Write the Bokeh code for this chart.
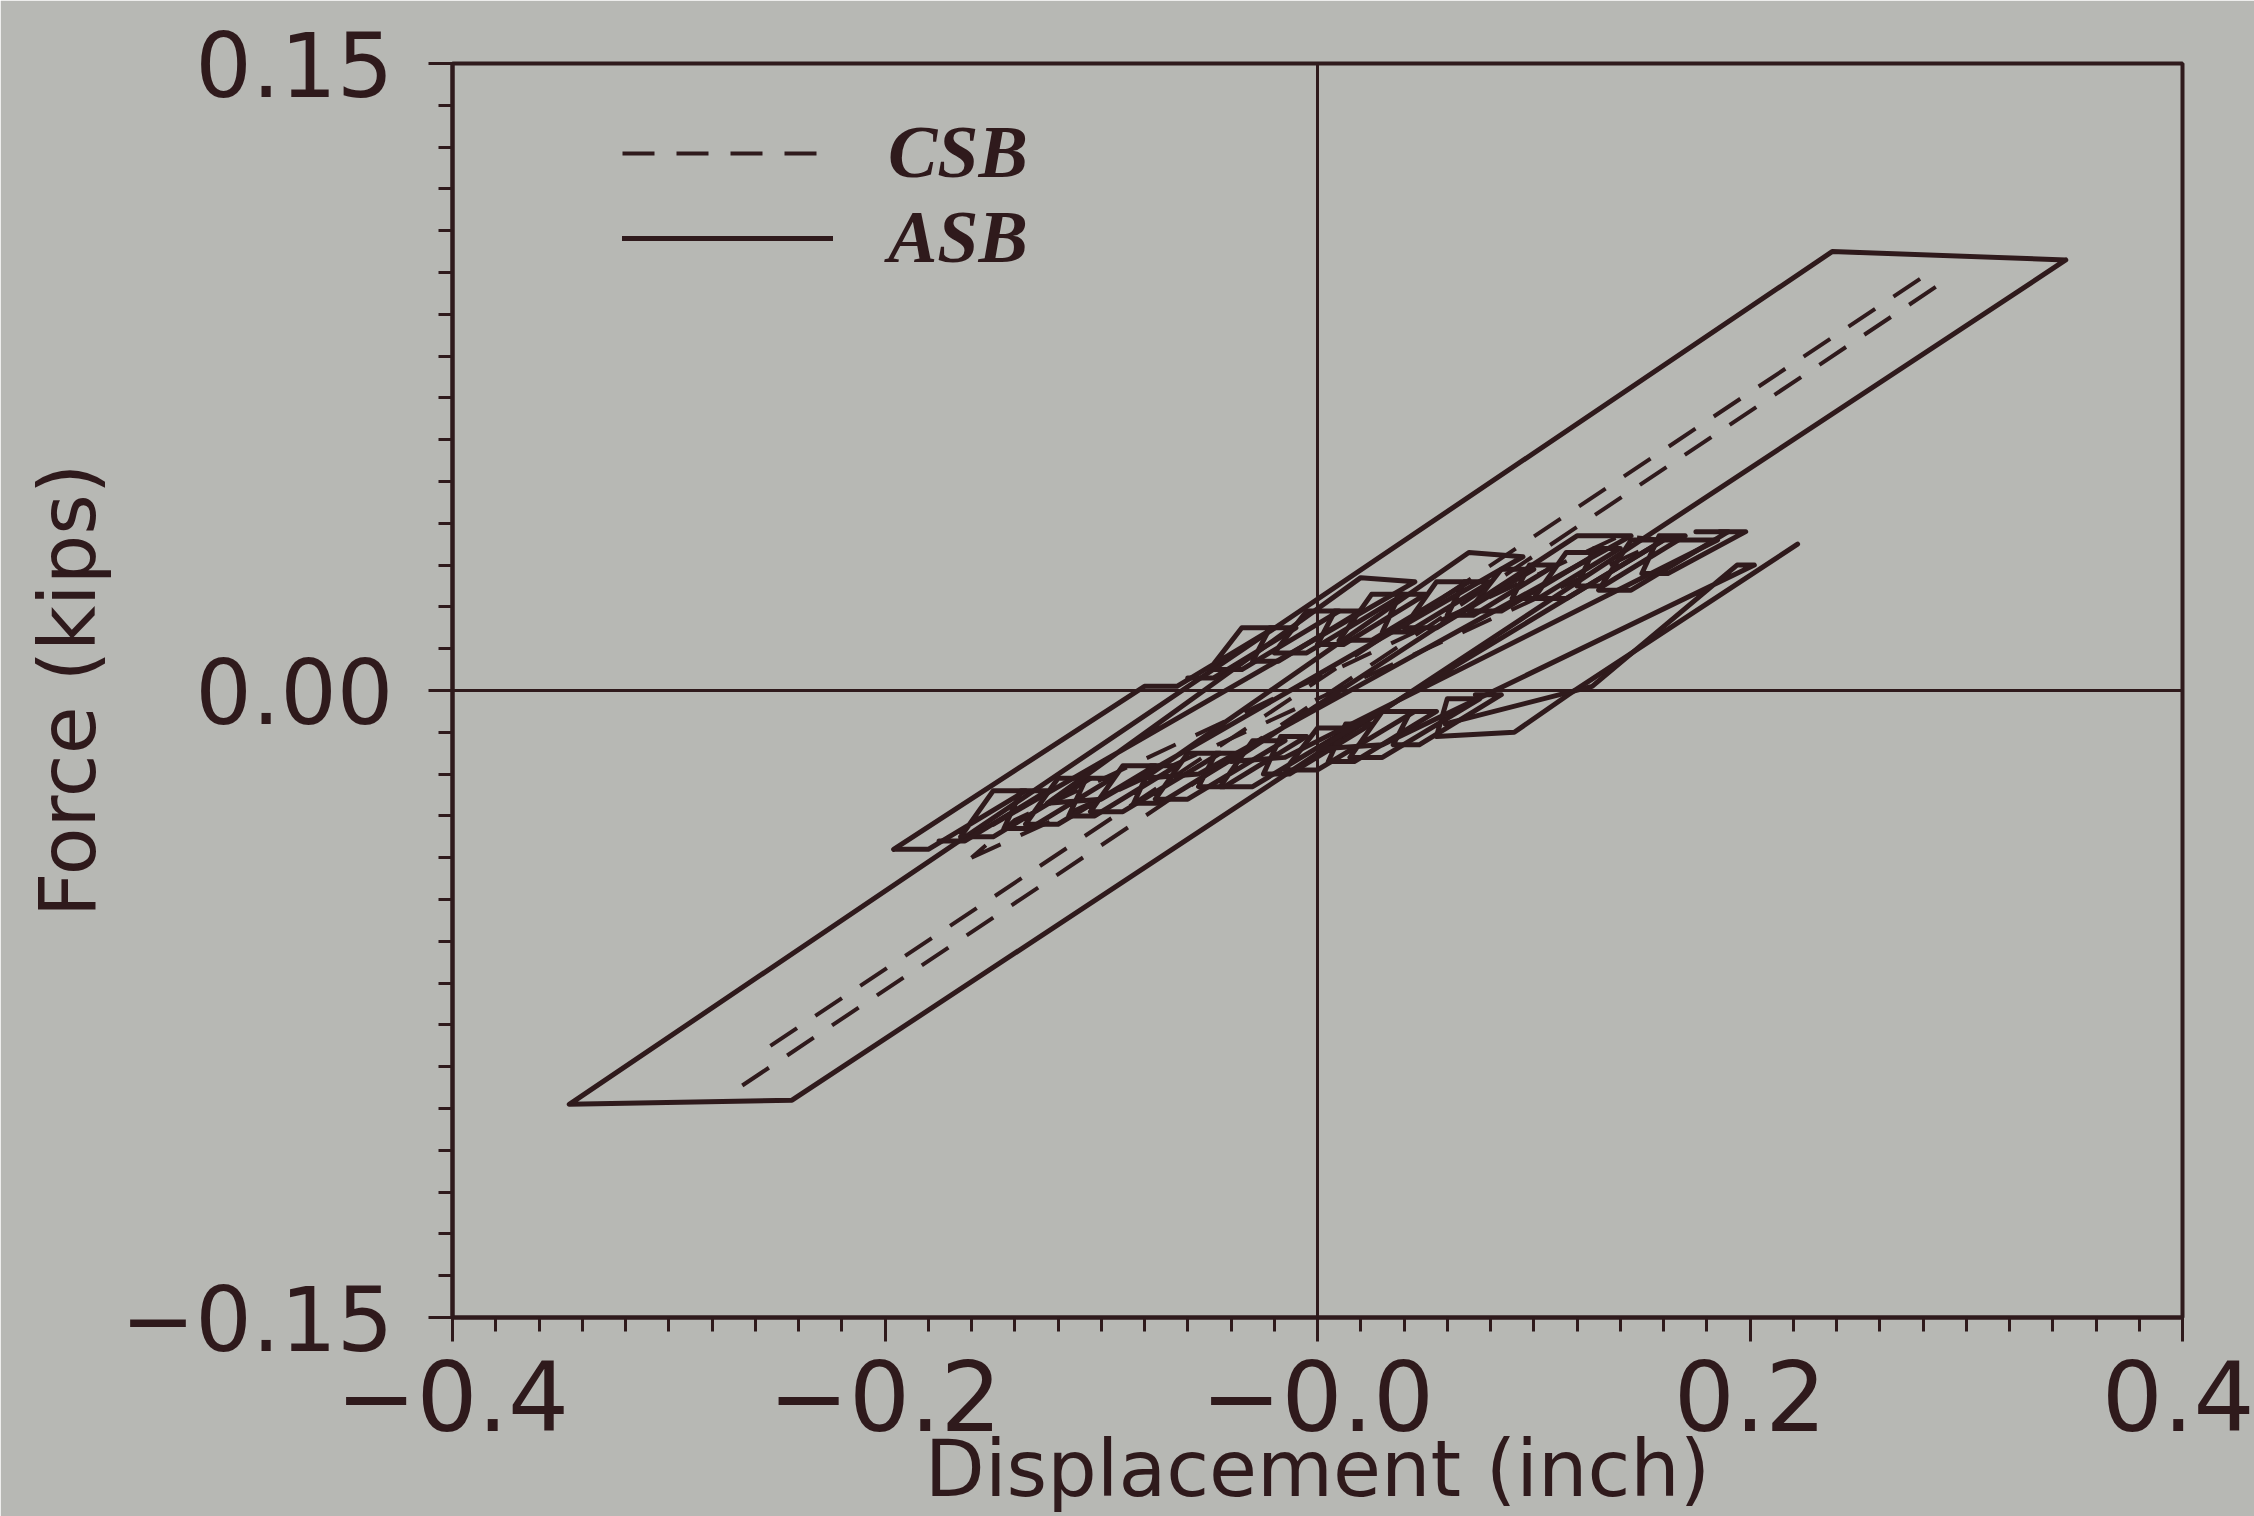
from bokeh.plotting import figure
from bokeh.models import Range1d, FixedTicker, Span, Legend, LegendItem
from bokeh.embed import file_html
from bokeh.resources import INLINE

# ---------------- data ----------------
x_ticks = [-0.4, -0.2, 0.0, 0.2, 0.4]
x_labels = ["\u22120.4", "\u22120.2", "\u22120.0", "0.2", "0.4"]
y_ticks = [-0.15, 0.0, 0.15]
y_labels = ["\u22120.15", "0.00", "0.15"]

# ASB (solid) - outer large cycle
asb_outer_x = [0.346, 0.238, -0.346, -0.243, 0.346]
asb_outer_y = [0.103, 0.105, -0.099, -0.098, 0.103]

# ASB - left tip branch followed by the upper chain of small cycles
asb_up_x = [-0.196, -0.080, -0.065, -0.020, -0.035, -0.050, -0.035, 0.010, -0.005, -0.020,
            -0.005, 0.040, 0.025, 0.010, 0.025, 0.070, 0.055, 0.040, 0.055, 0.100,
            0.085, 0.070, 0.085, 0.130, 0.115, 0.100, 0.115, 0.160, 0.145, 0.130,
            0.145, 0.190, 0.175]
asb_up_y = [-0.038, 0.001, 0.001, 0.015, 0.015, 0.005, 0.005, 0.019, 0.019, 0.009,
            0.009, 0.023, 0.023, 0.012, 0.012, 0.026, 0.026, 0.015, 0.015, 0.029,
            0.029, 0.019, 0.019, 0.033, 0.033, 0.022, 0.022, 0.036, 0.036, 0.024,
            0.024, 0.038, 0.038]

# ASB - second upper chain of small cycles
asb_up2_x = [-0.060, -0.048, -0.010, -0.022, -0.030, -0.018, 0.020, 0.008, 0.000, 0.012,
             0.050, 0.038, 0.030, 0.042, 0.080, 0.068, 0.060, 0.072, 0.110, 0.098,
             0.090, 0.102, 0.140, 0.128, 0.120, 0.132, 0.170, 0.158, 0.150, 0.162,
             0.198, 0.186]
asb_up2_y = [0.003, 0.003, 0.015, 0.015, 0.007, 0.007, 0.019, 0.019, 0.011, 0.011,
             0.023, 0.023, 0.014, 0.014, 0.026, 0.026, 0.018, 0.018, 0.030, 0.030,
             0.022, 0.022, 0.034, 0.034, 0.025, 0.025, 0.037, 0.037, 0.028, 0.028,
             0.038, 0.038]

# ASB - lower chain of small cycles ending in the right-hand branch
asb_lo_x = [-0.195, -0.180, -0.135, -0.150, -0.165, -0.150, -0.105, -0.120, -0.135, -0.120,
            -0.075, -0.090, -0.105, -0.090, -0.045, -0.060, -0.075, -0.060, -0.015, -0.030,
            -0.045, -0.030, 0.015, 0.000, -0.015, 0.000, 0.045, 0.030, 0.015, 0.030,
            0.075, 0.060, 0.055, 0.091, 0.116, 0.222]
asb_lo_y = [-0.038, -0.038, -0.024, -0.024, -0.035, -0.035, -0.021, -0.021, -0.032, -0.032,
            -0.018, -0.018, -0.029, -0.029, -0.015, -0.015, -0.026, -0.026, -0.012, -0.012,
            -0.023, -0.023, -0.009, -0.009, -0.019, -0.019, -0.005, -0.005, -0.016, -0.016,
            -0.002, -0.002, -0.011, -0.010, -0.001, 0.035]

# ASB - second lower chain of small cycles
asb_lo2_x = [-0.175, -0.163, -0.125, -0.137, -0.145, -0.133, -0.095, -0.107, -0.115, -0.103,
             -0.065, -0.077, -0.085, -0.073, -0.035, -0.047, -0.055, -0.043, -0.005, -0.017,
             -0.025, -0.013, 0.025, 0.013, 0.005, 0.017, 0.055, 0.043, 0.035, 0.047,
             0.085, 0.073]
asb_lo2_y = [-0.036, -0.036, -0.024, -0.024, -0.033, -0.033, -0.021, -0.021, -0.030, -0.030,
             -0.018, -0.018, -0.027, -0.027, -0.015, -0.015, -0.023, -0.023, -0.011, -0.011,
             -0.020, -0.020, -0.008, -0.008, -0.017, -0.017, -0.005, -0.005, -0.013, -0.013,
             -0.001, -0.001]

# ASB - cycles crossing between the chains
asb_mid_x = [-0.150, 0.045, 0.020, -0.125, -0.100, 0.095, 0.070, -0.080, -0.055, 0.145,
             0.120, -0.040, -0.015, 0.185, 0.160, 0.000, 0.030, 0.202, 0.194, 0.127, 0.059]
asb_mid_y = [-0.032, 0.026, 0.027, -0.027, -0.026, 0.032, 0.033, -0.021, -0.020, 0.037,
             0.037, -0.017, -0.016, 0.036, 0.036, -0.014, -0.013, 0.030, 0.030, 0.001, -0.008]

# CSB (dashed) - two long branches and one inner cycle
csb_up_x = [-0.253, 0.279]
csb_up_y = [-0.085, 0.0986]
csb_dn_x = [-0.266, 0.293]
csb_dn_y = [-0.0945, 0.099]
csb_in_x = [-0.160, 0.160, 0.140, -0.140, -0.160]
csb_in_y = [-0.040, 0.036, 0.037, -0.031, -0.040]

# ---------------- styling ----------------
INK = "#2f1a1c"
PAPER = "#b7b8b4"
W, H = 2254, 1516
BL, BR, BT, BB = 452, 72, 63, 196
FH = H - BT - BB

p = figure(width=W, height=H, output_backend="svg", toolbar_location=None,
           x_range=Range1d(-0.4, 0.4), y_range=Range1d(-0.15, 0.15),
           min_border_left=BL, min_border_right=BR, min_border_top=BT, min_border_bottom=BB)
p.background_fill_color = PAPER
p.border_fill_color = PAPER
p.outline_line_color = INK
p.outline_line_width = 4
p.grid.visible = False

x_minor = [round(-0.4 + 0.02 * i, 2) for i in range(41)]
y_minor = [round(-0.15 + 0.01 * i, 2) for i in range(31)]

p.xaxis.ticker = FixedTicker(ticks=x_ticks, minor_ticks=x_minor)
p.xaxis.major_label_overrides = dict(zip(x_ticks, x_labels))
p.yaxis.ticker = FixedTicker(ticks=y_ticks, minor_ticks=y_minor)
p.yaxis.major_label_overrides = dict(zip(y_ticks, y_labels))

for ax in (p.xaxis, p.yaxis):
    ax.axis_line_color = INK
    ax.axis_line_width = 4
    ax.major_tick_line_color = INK
    ax.major_tick_line_width = 3
    ax.minor_tick_line_color = INK
    ax.minor_tick_line_width = 3
    ax.major_tick_in = 0
    ax.minor_tick_in = 0
    ax.major_tick_out = 24
    ax.minor_tick_out = 14
    ax.major_label_text_color = INK
    ax.major_label_text_font = "DejaVu Sans"
    ax.axis_label_text_color = INK
    ax.axis_label_text_font = "DejaVu Sans"
    ax.axis_label_text_font_style = "normal"
    ax.axis_label_text_font_size = "78px"

p.xaxis.major_label_text_font_size = "96px"
p.yaxis.major_label_text_font_size = "89px"
p.xaxis.major_label_standoff = 18
p.yaxis.major_label_standoff = 35
p.xaxis.axis_label = "Displacement (inch)"
p.yaxis.axis_label = "Force (kips)"
p.xaxis.axis_label_standoff = -10
p.yaxis.axis_label_standoff = 5

# cross lines through the origin
p.add_layout(Span(location=0, dimension="height", line_color=INK, line_width=3))
p.add_layout(Span(location=0, dimension="width", line_color=INK, line_width=3))

r_csb = p.multi_line(xs=[csb_up_x, csb_dn_x, csb_in_x], ys=[csb_up_y, csb_dn_y, csb_in_y],
                     line_color=INK, line_width=4, line_dash="32 22")
r_asb = p.multi_line(xs=[asb_outer_x, asb_up_x, asb_up2_x, asb_lo_x, asb_lo2_x, asb_mid_x],
                     ys=[asb_outer_y, asb_up_y, asb_up2_y, asb_lo_y, asb_lo2_y, asb_mid_y],
                     line_color=INK, line_width=5, line_join="round", line_cap="round")

row_h = 87
spacing = -14
leg_h = 2 * row_h + spacing
leg_top = 60
legend = Legend(items=[LegendItem(label="CSB", renderers=[r_csb]),
                       LegendItem(label="ASB", renderers=[r_asb])],
                location=(170, FH - leg_top - leg_h),
                glyph_width=211, glyph_height=76, label_height=76, spacing=spacing,
                padding=0, margin=0, label_standoff=55,
                border_line_alpha=0, background_fill_alpha=0,
                label_text_font="Liberation Serif", label_text_font_style="bold italic",
                label_text_font_size="74px", label_text_color=INK)
p.add_layout(legend)

open("out.html", "w").write(file_html(p, INLINE))
